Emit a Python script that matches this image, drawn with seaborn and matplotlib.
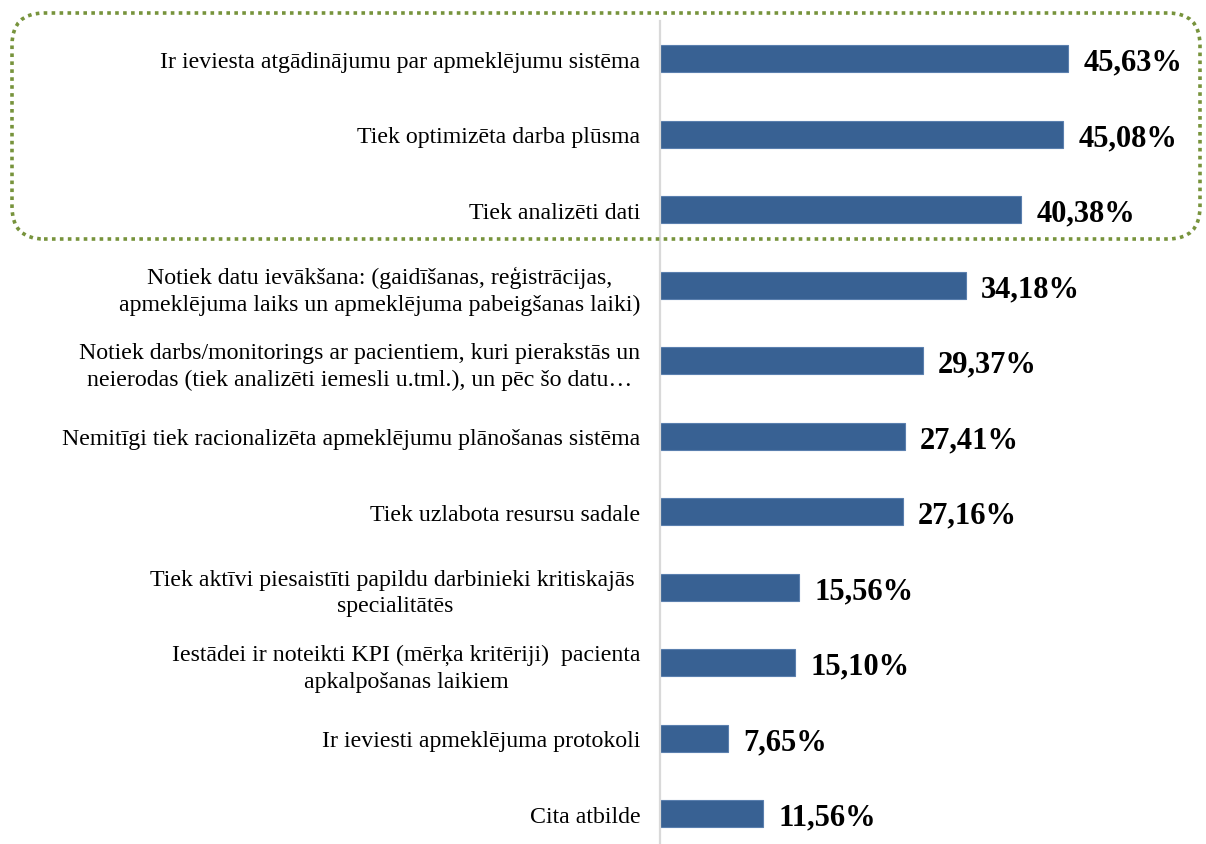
import matplotlib
matplotlib.use("Agg")
import matplotlib.pyplot as plt
from matplotlib.patches import FancyBboxPatch
from matplotlib.transforms import IdentityTransform
import seaborn as sns
import pandas as pd

# data
labels = [
    "Ir ieviesta atgādinājumu par apmeklējumu sistēma",
    "Tiek optimizēta darba plūsma",
    "Tiek analizēti dati",
    "Notiek datu ievākšana: (gaidīšanas, reģistrācijas,\napmeklējuma laiks un apmeklējuma pabeigšanas laiki)",
    "Notiek darbs/monitorings ar pacientiem, kuri pierakstās un\nneierodas (tiek analizēti iemesli u.tml.), un pēc šo datu…",
    "Nemitīgi tiek racionalizēta apmeklējumu plānošanas sistēma",
    "Tiek uzlabota resursu sadale",
    "Tiek aktīvi piesaistīti papildu darbinieki kritiskajās \nspecialitātēs",
    "Iestādei ir noteikti KPI (mērķa kritēriji)  pacienta\napkalpošanas laikiem",
    "Ir ieviesti apmeklējuma protokoli",
    "Cita atbilde",
]
values = [45.63, 45.08, 40.38, 34.18, 29.37, 27.41, 27.16, 15.56, 15.10, 7.65, 11.56]

df = pd.DataFrame({"label": labels, "value": values})

sns.set_style("white")
plt.rcParams["font.family"] = ["Liberation Serif", "DejaVu Serif"]

W, H = 1206, 845
fig = plt.figure(figsize=(W / 100, H / 100), dpi=100)
ax = fig.add_axes([660 / W, 0, 447 / W, (H - 22) / H])

sns.barplot(data=df, x="value", y="label", orient="h", color="#386193",
            width=0.36, edgecolor="#5a7fae", linewidth=0.8, saturation=1, ax=ax)

ax.set_xlim(0, 50)
ax.set_ylim(10.4, -0.5)
ax.set_xlabel("")
ax.set_ylabel("")
ax.set_xticks([])
ax.tick_params(axis="y", length=0, pad=14, labelsize=17.2, labelcolor="black")
for t in ax.get_yticklabels():
    t.set_multialignment("center")
    t.set_linespacing(1.35)

for s in ["top", "right", "bottom"]:
    ax.spines[s].set_visible(False)
ax.spines["left"].set_color("#d9d9d9")
ax.spines["left"].set_linewidth(1.6)

for i, v in enumerate(values):
    ax.text(v + 1.7, i, f"{v:.2f}%".replace(".", ","), va="center_baseline", ha="left",
            fontsize=22, fontweight="bold", color="black")

# dotted rounded frame around top three
box = FancyBboxPatch((12, H - 240), 1188, 226,
                     boxstyle="round,pad=0,rounding_size=32",
                     transform=IdentityTransform(), fill=False,
                     edgecolor="#77933c", linewidth=2.6,
                     linestyle=(0, (1, 1.2)), clip_on=False)
fig.add_artist(box)

fig.savefig("out.png", dpi=100)
